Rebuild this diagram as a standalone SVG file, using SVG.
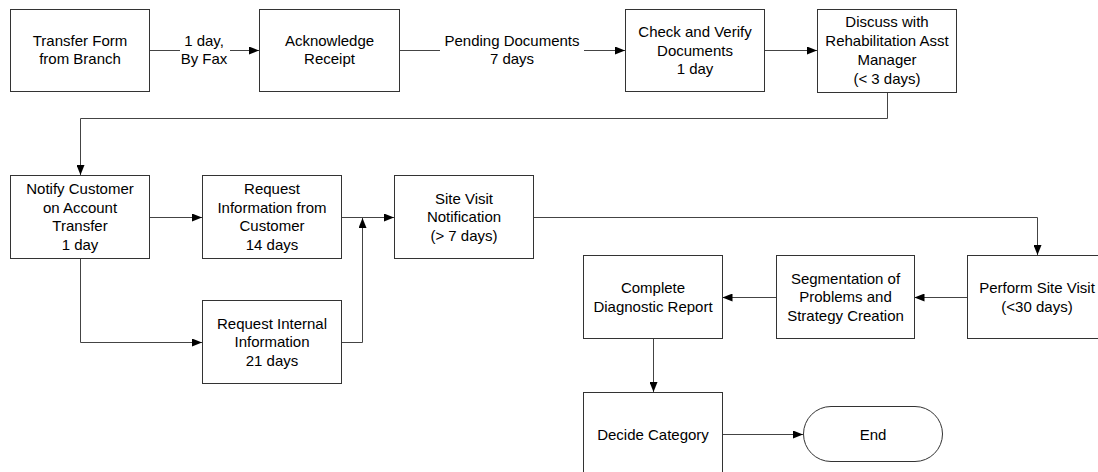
<svg xmlns="http://www.w3.org/2000/svg" width="1098" height="472" viewBox="0 0 1098 472">
  <defs>
    <marker id="arrow" markerWidth="10" markerHeight="8" refX="10" refY="4" orient="auto" markerUnits="userSpaceOnUse">
      <path d="M0,0 L10,4 L0,8 Z" fill="#000"/>
    </marker>
    <style>
      .box { fill: #fff; stroke: #333; stroke-width: 1; }
      .conn { fill: none; stroke: #444; stroke-width: 1; }
      .arr { marker-end: url(#arrow); }
      text { font-family: "Liberation Sans", Arial, sans-serif; font-size: 15px; fill: #000; text-anchor: middle; }
      .lblbg { fill: #fff; stroke: none; }
    </style>
  </defs>
  <rect width="1098" height="472" fill="#fff"/>

  <!-- connectors -->
  <g id="connectors">
    <path class="conn arr" d="M149.5,50.5 H259"/>
    <rect class="lblbg" x="180" y="30" width="50" height="38"/>
    <text x="204" y="46">1 day,</text>
    <text x="204" y="64">By Fax</text>

    <path class="conn arr" d="M399.5,50.5 H625"/>
    <rect class="lblbg" x="440" y="30" width="144" height="38"/>
    <text x="512" y="46">Pending Documents</text>
    <text x="512" y="64">7 days</text>

    <path class="conn arr" d="M764.5,50.5 H817"/>
    <path class="conn arr" d="M887.5,92 V118.5 H80.5 V175"/>
    <path class="conn arr" d="M149.5,217.5 H202"/>
    <path class="conn arr" d="M80.5,258.5 V342.5 H202"/>
    <path class="conn arr" d="M341.5,217.5 H394"/>
    <path class="conn arr" d="M341.5,342.5 H362.5 V218"/>
    <path class="conn arr" d="M533.5,217.5 H1037.5 V255"/>
    <path class="conn arr" d="M967.5,297.5 H914.5"/>
    <path class="conn arr" d="M776.5,297.5 H722.5"/>
    <path class="conn arr" d="M653.5,339 V392"/>
    <path class="conn arr" d="M722.5,434.5 H803"/>
  </g>

  <g id="transfer-form">
    <rect class="box" x="10.5" y="9.5" width="139" height="82"/>
    <text x="80" y="46">Transfer Form</text>
    <text x="80" y="64">from Branch</text>
  </g>

  <g id="acknowledge-receipt">
    <rect class="box" x="259.5" y="9.5" width="140" height="82"/>
    <text x="329.5" y="46">Acknowledge</text>
    <text x="329.5" y="64">Receipt</text>
  </g>

  <g id="check-verify">
    <rect class="box" x="625.5" y="9.5" width="139" height="82"/>
    <text x="695" y="37">Check and Verify</text>
    <text x="695" y="55.5">Documents</text>
    <text x="695" y="74">1 day</text>
  </g>

  <g id="discuss-manager">
    <rect class="box" x="817.5" y="9.5" width="139" height="83"/>
    <text x="887" y="27">Discuss with</text>
    <text x="887" y="46">Rehabilitation Asst</text>
    <text x="887" y="65">Manager</text>
    <text x="887" y="84">(&lt; 3 days)</text>
  </g>

  <g id="notify-customer">
    <rect class="box" x="10.5" y="175.5" width="139" height="83"/>
    <text x="80" y="194">Notify Customer</text>
    <text x="80" y="212.5">on Account</text>
    <text x="80" y="231">Transfer</text>
    <text x="80" y="249.5">1 day</text>
  </g>

  <g id="request-customer-info">
    <rect class="box" x="202.5" y="175.5" width="139" height="83"/>
    <text x="272" y="194">Request</text>
    <text x="272" y="212.5">Information from</text>
    <text x="272" y="231">Customer</text>
    <text x="272" y="249.5">14 days</text>
  </g>

  <g id="request-internal-info">
    <rect class="box" x="202.5" y="300.5" width="139" height="83"/>
    <text x="272" y="328.5">Request Internal</text>
    <text x="272" y="347">Information</text>
    <text x="272" y="365.5">21 days</text>
  </g>

  <g id="site-visit-notification">
    <rect class="box" x="394.5" y="175.5" width="139" height="83"/>
    <text x="464" y="203.5">Site Visit</text>
    <text x="464" y="222">Notification</text>
    <text x="464" y="240.5">(&gt; 7 days)</text>
  </g>

  <g id="perform-site-visit">
    <rect class="box" x="967.5" y="255.5" width="139" height="83"/>
    <text x="1037" y="293">Perform Site Visit</text>
    <text x="1037" y="311.5">(&lt;30 days)</text>
  </g>

  <g id="segmentation">
    <rect class="box" x="776.5" y="255.5" width="138" height="83"/>
    <text x="845.5" y="283.5">Segmentation of</text>
    <text x="845.5" y="302">Problems and</text>
    <text x="845.5" y="320.5">Strategy Creation</text>
  </g>

  <g id="diagnostic-report">
    <rect class="box" x="583.5" y="255.5" width="139" height="83"/>
    <text x="653" y="293">Complete</text>
    <text x="653" y="311.5">Diagnostic Report</text>
  </g>

  <g id="decide-category">
    <rect class="box" x="583.5" y="392.5" width="139" height="84"/>
    <text x="653" y="439.5">Decide Category</text>
  </g>

  <g id="end">
    <rect class="box" x="803.5" y="406.5" width="139" height="55" rx="27.5" ry="27.5"/>
    <text x="873" y="439.5">End</text>
  </g>
</svg>
